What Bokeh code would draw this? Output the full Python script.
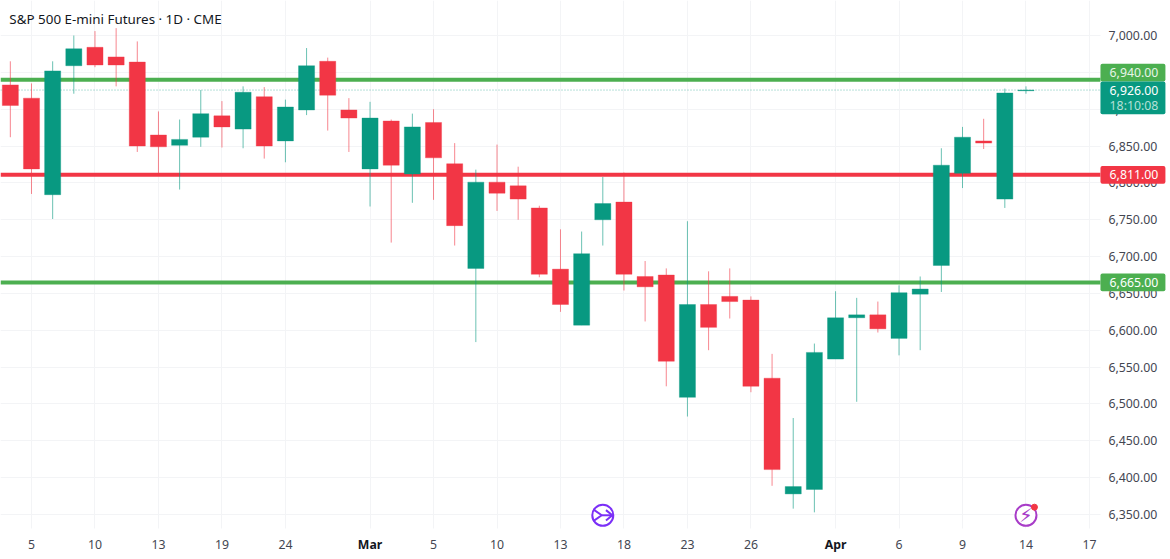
from bokeh.core.properties import value
from bokeh.embed import file_html
from bokeh.models import BoxAnnotation, ColumnDataSource, FixedTicker, Label, LinearAxis, NumeralTickFormatter, Range1d, Span
from bokeh.plotting import figure
from bokeh.resources import INLINE

# Дневные свечи, значения
OPEN = [6933, 6915, 6784, 6959, 6984, 6971, 6964, 6865, 6851, 6862, 6891, 6873, 6917, 6857, 6899, 6965, 6899,
        6819, 6884, 6812, 6882, 6826, 6684, 6801, 6796, 6766, 6683, 6607, 6750, 6774, 6673, 6675, 6509, 6635,
        6646, 6641, 6535, 6378, 6384, 6561, 6617, 6621, 6589, 6649, 6688, 6813, 6857, 6778, 6925]
HIGH = [6965, 6935, 6965, 7000, 7006, 7010, 6992, 6897, 6886, 6926, 6911, 6931, 6930, 6913, 6983, 6970, 6915,
        6910, 6886, 6894, 6900, 6854, 6818, 6852, 6822, 6769, 6737, 6734, 6808, 6814, 6694, 6684, 6748, 6680,
        6684, 6646, 6568, 6481, 6582, 6653, 6644, 6639, 6661, 6673, 6847, 6876, 6887, 6928, 6931]
LOW = [6862, 6785, 6751, 6921, 6957, 6931, 6842, 6812, 6791, 6849, 6848, 6847, 6833, 6828, 6892, 6871, 6842,
       6768, 6719, 6773, 6777, 6715, 6584, 6762, 6750, 6672, 6625, 6607, 6715, 6654, 6612, 6524, 6483, 6573,
       6616, 6516, 6389, 6358, 6353, 6561, 6503, 6597, 6566, 6573, 6652, 6793, 6846, 6766, 6921]
CLOSE = [6905, 6819, 6952, 6982, 6960, 6960, 6850, 6849, 6859, 6894, 6876, 6923, 6850, 6903, 6959, 6919, 6888,
         6888, 6824, 6876, 6834, 6742, 6801, 6786, 6778, 6676, 6635, 6704, 6772, 6676, 6659, 6558, 6635, 6604,
         6639, 6524, 6411, 6388, 6570, 6617, 6621, 6602, 6651, 6656, 6824, 6862, 6854, 6922, 6926]

# Подписи оси дат: номер свечи и текст
DATE_POS = [1, 4, 7, 10, 13, 17, 20, 23, 26, 29, 32, 35, 39, 42, 45, 48, 51]
DATE_LABELS = ["5", "10", "13", "19", "24", "Mar", "5", "10", "13", "18", "23", "26", "Apr", "6", "9", "14", "17"]
MONTHS = ["Mar", "Apr"]

PRICE_TICKS = [6350, 6400, 6450, 6500, 6550, 6600, 6650, 6700, 6750, 6800, 6850, 6900, 6950, 7000]
LEVELS = [6940, 6811, 6665]
LAST_PRICE = 6926
COUNTDOWN = "18:10:08"

# Края области свечей: справа шкала цен, снизу шкала дат
AXIS_X = 51.52
AXIS_Y = 6331
BADGE_RIGHT = 54.59
BADGE_TEXT_X = 51.95

GREEN = "#089981"
RED = "#F23645"
LEVEL_GREEN = "#4CAF50"
GRID = "#F3F4F6"
FONT = "Noto Sans"
FONT_SIZE = "12.3px"


def create_figure():
    # Рамка на весь холст, оси закреплены внутри неё, иначе плашки обрезаются
    p = figure(width=1170, height=559, output_backend="svg", toolbar_location=None,
               x_range=Range1d(-0.465, 54.83), y_range=Range1d(6289, 7047.5),
               y_axis_location=None, x_axis_location=None,
               min_border_left=0, min_border_top=0, min_border_right=0, min_border_bottom=0)
    p.outline_line_color = None
    p.background_fill_color = "white"
    return p


def add_axes(p):
    overrides = {pos: ("" if label in MONTHS else label) for pos, label in zip(DATE_POS, DATE_LABELS)}
    x_axis = LinearAxis(ticker=FixedTicker(ticks=DATE_POS), major_label_overrides=overrides, fixed_location=AXIS_Y)
    y_axis = LinearAxis(ticker=FixedTicker(ticks=PRICE_TICKS), formatter=NumeralTickFormatter(format="0,0.00"),
                        fixed_location=AXIS_X)
    for axis in (x_axis, y_axis):
        axis.axis_line_color = None
        axis.major_tick_line_color = None
        axis.minor_tick_line_color = None
        axis.major_label_text_font = FONT
        axis.major_label_text_font_size = FONT_SIZE
        axis.major_label_text_color = "#434651"
    x_axis.major_label_standoff = 5
    y_axis.major_label_standoff = 2
    p.add_layout(x_axis, "below")
    p.add_layout(y_axis, "right")
    p.xgrid.ticker = x_axis.ticker
    p.ygrid.ticker = y_axis.ticker
    p.xgrid.grid_line_color = GRID
    p.ygrid.grid_line_color = GRID
    # Месяцы жирным, как в оригинале
    for pos, label in zip(DATE_POS, DATE_LABELS):
        if label in MONTHS:
            p.add_layout(Label(x=pos, y=AXIS_Y, y_offset=-16, text=label, text_font=FONT, text_font_size=FONT_SIZE,
                               text_font_style="bold", text_color="#131722", text_align="center",
                               text_baseline="middle"))


def add_levels(p):
    # Уровни лежат под свечами
    for level in LEVELS:
        color = RED if level == 6811 else LEVEL_GREEN
        p.add_layout(Span(location=level, dimension="width", line_color=color, line_width=4, level="underlay"))
    p.add_layout(Span(location=LAST_PRICE, dimension="width", line_color=GREEN, line_alpha=0.6, line_width=1,
                      line_dash="1 2", level="underlay"))
    # Белые поля закрывают сетку и уровни под шкалами
    p.add_layout(BoxAnnotation(left=AXIS_X, fill_color="white", fill_alpha=1, line_color=None, level="underlay"))
    p.add_layout(BoxAnnotation(top=AXIS_Y, fill_color="white", fill_alpha=1, line_color=None, level="underlay"))


def add_candles(p):
    colors = [GREEN if c >= o else RED for o, c in zip(OPEN, CLOSE)]
    source = ColumnDataSource(dict(x=list(range(len(OPEN))), open=OPEN, high=HIGH, low=LOW, close=CLOSE, color=colors))
    p.segment("x", "high", "x", "low", source=source, line_color="color", line_alpha=0.6, line_width=1)
    p.vbar("x", 0.76, "open", "close", source=source, fill_color="color", line_color="color", line_alpha=0.35,
           line_width=1)


def badge_text(p, y, text, color):
    p.add_layout(Label(x=BADGE_TEXT_X, y=y, text=text, text_font=FONT, text_font_size=FONT_SIZE,
                       text_color=color, text_align="left", text_baseline="middle"))


def add_badges(p):
    # Плашки цен поверх шкалы; 6,940 сдвинута вверх, чтобы не наезжать на текущую цену
    boxes = [(6961.6, 6937.6, LEVEL_GREEN), (6937.6, 6893, GREEN), (6823, 6799, RED), (6677, 6653, LEVEL_GREEN)]
    for top, bottom, fill in boxes:
        p.add_layout(BoxAnnotation(left=AXIS_X, right=BADGE_RIGHT, top=top, bottom=bottom, fill_color=fill,
                                   fill_alpha=1, line_color=None, border_radius=2))
    badge_text(p, 6949.6, "6,940.00", "#E8F5E9")
    badge_text(p, LAST_PRICE, "6,926.00", "#FFFFFF")
    badge_text(p, 6905, COUNTDOWN, "#B5E0D8")
    badge_text(p, 6811, "6,811.00", "#FFFFFF")
    badge_text(p, 6665, "6,665.00", "#FFFFFF")


def add_icons(p):
    # Значки событий внизу графика
    purple = "#7B2FF7"
    pink = "#A83CC8"
    p.scatter([28], [6349], marker="circle", size=21, fill_color="white", line_color=purple, line_width=2)
    p.multi_line([[27.55, 27.95, 27.55], [27.95, 28.45], [28.15, 28.45, 28.15]],
                 [[6357, 6349, 6341], [6349, 6349], [6356, 6349, 6342]], line_color=purple, line_width=2)
    p.scatter([48], [6349], marker="circle", size=21, fill_color="white", line_color=pink, line_width=2)
    p.text([48], [6349], text=["\u26A1"], text_font=value("DejaVu Sans"), text_font_size="19px", text_color=pink,
           text_align="center", text_baseline="middle")
    p.scatter([48.4], [6360], marker="circle", size=6, fill_color=RED, line_color=RED)


def add_title(p):
    p.add_layout(Label(x=0, y=7023, x_offset=-1, text="S&P 500 E-mini Futures \u00B7 1D \u00B7 CME", text_font=FONT,
                       text_font_size="13.4px", text_font_style="normal", text_color="#131722", text_align="left",
                       text_baseline="middle"))


if __name__ == '__main__':
    p = create_figure()
    add_axes(p)
    add_levels(p)
    add_candles(p)
    add_icons(p)
    add_badges(p)
    add_title(p)
    open("out.html", "w").write(file_html(p, INLINE))
